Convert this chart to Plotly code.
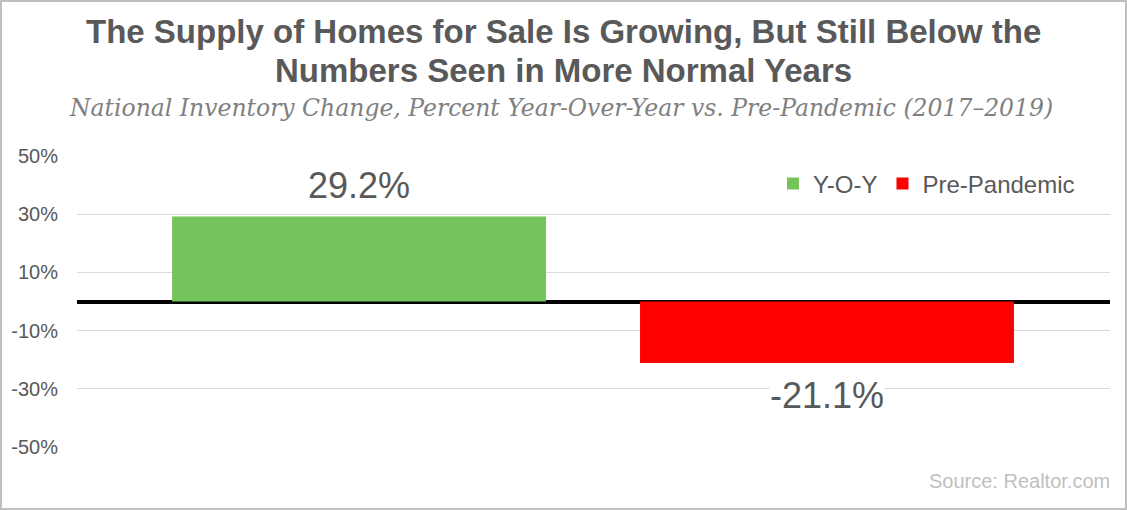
import plotly.graph_objects as go

# ---- data ----
series_names = ["Y-O-Y", "Pre-Pandemic"]
series_values = [29.2, -21.1]
series_colors = ["#75C45B", "#FF0000"]
tick_values = [-50, -30, -10, 10, 30, 50]
tick_labels = ["-50%", "-30%", "-10%", "10%", "30%", "50%"]

title_lines = ["The Supply of Homes for Sale Is Growing, But Still Below the",
               "Numbers Seen in More Normal Years"]
subtitle_text = "National Inventory Change, Percent Year-Over-Year vs. Pre-Pandemic (2017\u20132019)"
source_text = "Source: Realtor.com"

# ---- layout geometry (pixels) ----
W, H = 1127, 510
L, R, T, B = 77, 1110, 156, 447
pw, ph = R - L, B - T


def px_x(x):
    return (x - L) / pw


def px_y(y):
    return (B - y) / ph


fig = go.Figure()
for name, val, col in zip(series_names, series_values, series_colors):
    fig.add_trace(go.Bar(
        x=[name], y=[val], name=name,
        marker=dict(color=col, line=dict(width=0)),
        hoverinfo="skip",
    ))

annotations = []
for name, val in zip(series_names, series_values):
    annotations.append(dict(
        x=name, y=val, xref="x", yref="y",
        text=f"{val:.1f}%",
        showarrow=False,
        yanchor="bottom" if val >= 0 else "top",
        yshift=10 if val >= 0 else -11,
        bgcolor="white", borderpad=0,
        font=dict(family="Liberation Sans, Arial", size=36, color="#595959"),
    ))

for line, yc in zip(title_lines, [32, 71]):
    annotations.append(dict(
        x=px_x(563), y=px_y(yc), xref="paper", yref="paper",
        text=f"<b>{line}</b>", showarrow=False,
        xanchor="center", yanchor="middle",
        font=dict(family="Liberation Sans, Arial", size=33, color="#595959"),
    ))

annotations.append(dict(
    x=px_x(561), y=px_y(108), xref="paper", yref="paper",
    text=f"<i>{subtitle_text}</i>", showarrow=False,
    xanchor="center", yanchor="middle",
    font=dict(family="DejaVu Serif", size=23.5, color="#808080"),
))
annotations.append(dict(
    x=px_x(1112), y=px_y(481), xref="paper", yref="paper",
    text=source_text, showarrow=False,
    xanchor="right", yanchor="middle",
    font=dict(family="Liberation Sans, Arial", size=20, color="#BFBFBF"),
))

fig.update_layout(
    width=W, height=H,
    margin=dict(l=L, r=W - R, t=T, b=H - B, pad=0),
    paper_bgcolor="white", plot_bgcolor="white",
    barmode="overlay", bargap=0.201,
    font=dict(family="Liberation Sans, Arial", color="#595959"),
    showlegend=True,
    legend=dict(
        orientation="h", x=px_x(1080), y=px_y(184),
        xanchor="right", yanchor="middle",
        bgcolor="rgba(0,0,0,0)",
        font=dict(family="Liberation Sans, Arial", size=24, color="#595959"),
        itemwidth=30, traceorder="normal",
    ),
    xaxis=dict(
        range=[-0.6026, 1.6047], showticklabels=False, showgrid=False,
        zeroline=False, showline=False, ticks="",
    ),
    yaxis=dict(
        range=[-50, 50], tickvals=tick_values, ticktext=tick_labels,
        showgrid=True, gridcolor="#D9D9D9", gridwidth=1,
        zeroline=True, zerolinecolor="black", zerolinewidth=4,
        showline=False, ticks="", ticklabelstandoff=18,
        tickfont=dict(family="Liberation Sans, Arial", size=20, color="#595959"),
    ),
    annotations=annotations,
    shapes=[dict(
        type="rect", xref="paper", yref="paper",
        x0=px_x(1), x1=px_x(1126), y0=px_y(509), y1=px_y(1),
        line=dict(color="#BFBFBF", width=2), fillcolor="rgba(0,0,0,0)",
        layer="above",
    )],
)

fig.write_html(
    "out.html",
    config={"displayModeBar": False},
    post_script="document.body.style.margin='0';document.body.style.overflow='hidden';",
)
